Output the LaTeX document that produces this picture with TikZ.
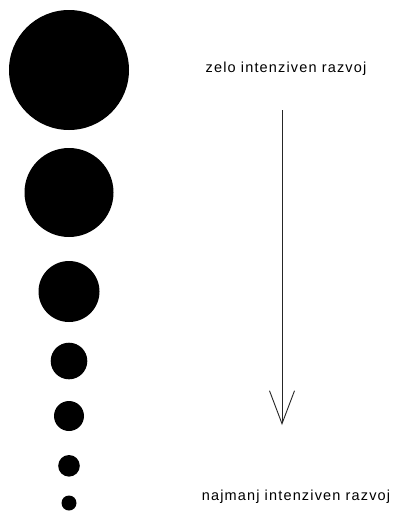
\documentclass[tikz,border=0pt]{standalone}
\usepackage{fontspec}
\usepackage{tikz}
\usetikzlibrary{arrows.meta}

\newfontfamily\razfont[LetterSpace=8]{Liberation Sans}

\begin{document}
\begin{tikzpicture}[
    x=1pt,
    y=-1pt,
    dot/.style={
        circle,
        fill=black,
        draw=none,
        inner sep=0pt
    },
    trend/.style={
        -{Straight Barb[length=33pt,width=25pt]},
        draw=black!85,
        line width=0.9pt
    },
    label/.style={
        font=\razfont\fontsize{14.5}{17}\selectfont,
        inner sep=0pt,
        anchor=base
    }
]

% =====================================================
% Canvas
% =====================================================

\useasboundingbox[fill=white] (0,0) rectangle (396,512);

% =====================================================
% Dots, from large to small
% =====================================================

\node[dot, minimum size=120pt] (dot1) at (69,70) {};
\node[dot, minimum size=89pt] (dot2) at (69,192.5) {};
\node[dot, minimum size=61pt] (dot3) at (69,291.5) {};
\node[dot, minimum size=36.6pt] (dot4) at (69,361) {};
\node[dot, minimum size=30pt] (dot5) at (69,416) {};
\node[dot, minimum size=21.6pt] (dot6) at (69,465.8) {};
\node[dot, minimum size=15pt] (dot7) at (69,503) {};

% =====================================================
% Labels
% =====================================================

\node[label] (most) at (286,72.7) {zelo intenziven razvoj};
\node[label] (least) at (296,500) {najmanj intenziven razvoj};

% =====================================================
% Arrow
% =====================================================

\coordinate (arrtop) at (282,110);
\coordinate (arrtip) at (282,425);

\draw[trend] (arrtop) -- (arrtip);

\end{tikzpicture}
\end{document}
